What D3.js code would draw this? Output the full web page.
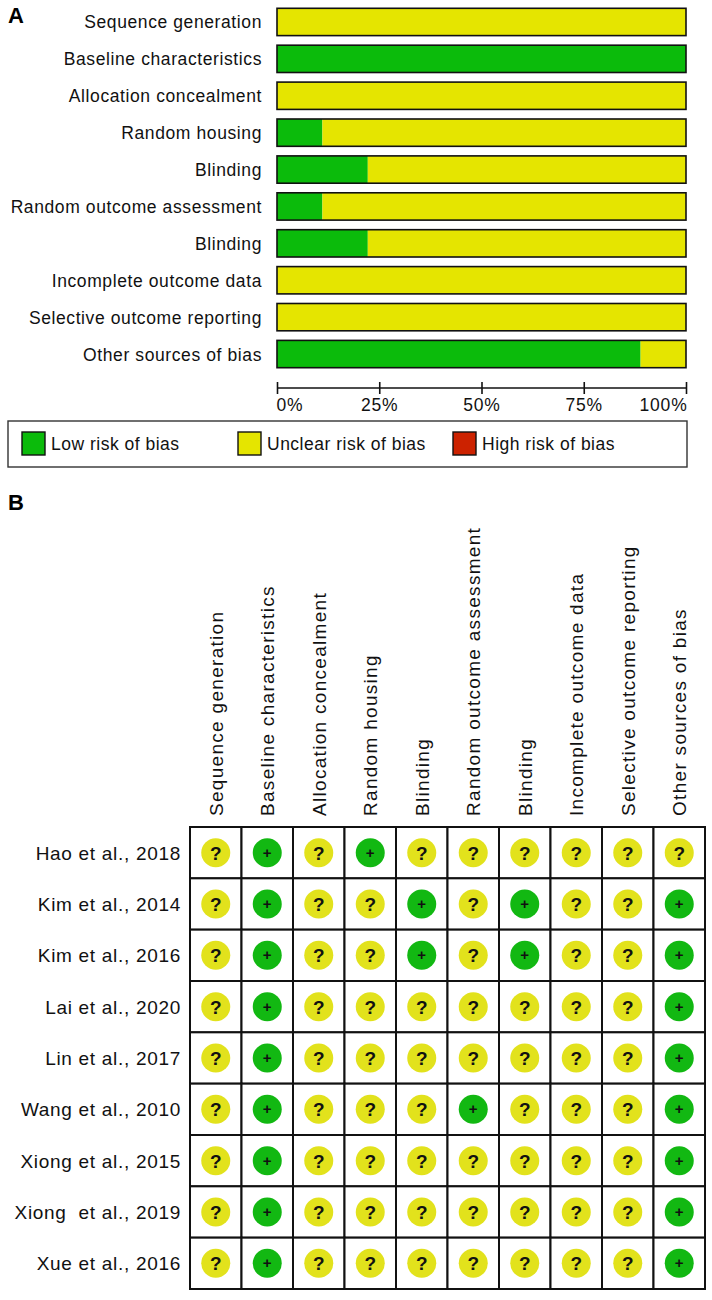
<!DOCTYPE html>
<html>
<head>
<meta charset="utf-8">
<title>Risk of bias</title>
<script src="https://cdn.jsdelivr.net/npm/d3@7"></script>
<style>
  body { margin: 0; background: #fff; }
  svg { display: block; font-family: "Liberation Sans", Arial, sans-serif; }
</style>
</head>
<body>
<script>
// Domains (rows of A, columns of B)
const domains = [
  'Sequence generation',
  'Baseline characteristics',
  'Allocation concealment',
  'Random housing',
  'Blinding',
  'Random outcome assessment',
  'Blinding',
  'Incomplete outcome data',
  'Selective outcome reporting',
  'Other sources of bias'
];

// Panel A percentages
const lowPct     = [0, 100, 0, 11.1, 22.2, 11.1, 22.2, 0, 0, 88.9];
const unclearPct = [100, 0, 100, 88.9, 77.8, 88.9, 77.8, 100, 100, 11.1];
const highPct    = [0, 0, 0, 0, 0, 0, 0, 0, 0, 0];
const tickValues = [0, 25, 50, 75, 100];
const tickLabels = ['0%', '25%', '50%', '75%', '100%'];

const legendLabels = ['Low risk of bias', 'Unclear risk of bias', 'High risk of bias'];

// Panel B studies and judgements ('+' low, '?' unclear)
const studies = [
  'Hao et al., 2018',
  'Kim et al., 2014',
  'Kim et al., 2016',
  'Lai et al., 2020',
  'Lin et al., 2017',
  'Wang et al., 2010',
  'Xiong et al., 2015',
  'Xiong  et al., 2019',
  'Xue et al., 2016'
];
const judgements = [
  ['?', '+', '?', '+', '?', '?', '?', '?', '?', '?'],
  ['?', '+', '?', '?', '+', '?', '+', '?', '?', '+'],
  ['?', '+', '?', '?', '+', '?', '+', '?', '?', '+'],
  ['?', '+', '?', '?', '?', '?', '?', '?', '?', '+'],
  ['?', '+', '?', '?', '?', '?', '?', '?', '?', '+'],
  ['?', '+', '?', '?', '?', '+', '?', '?', '?', '+'],
  ['?', '+', '?', '?', '?', '?', '?', '?', '?', '+'],
  ['?', '+', '?', '?', '?', '?', '?', '?', '?', '+'],
  ['?', '+', '?', '?', '?', '?', '?', '?', '?', '+']
];

const colors = { low: '#0bbb0b', unclear: '#e5e500', high: '#cc2200' };
const dotColors = { '+': '#12b812', '?': '#e2e21c', '-': '#dd2200' };

const width = 712, height = 1300;

const svg = d3.select('body').append('svg')
  .attr('width', width)
  .attr('height', height)
  .style('background-color', '#fff');

// ---------- Panel A ----------
svg.append('text')
  .attr('x', 8).attr('y', 23)
  .style('font-size', '22px')
  .style('font-weight', 'bold')
  .text('A');

const x = d3.scaleLinear().domain([0, 100]).range([277, 686]);
const y = d3.scaleBand().domain(d3.range(domains.length)).range([3.5, 372.5]).paddingInner(0.26).paddingOuter(0.13);

const stackData = domains.map((d, i) => ({ i, low: lowPct[i], unclear: unclearPct[i], high: highPct[i] }));
const stack = d3.stack().keys(['low', 'unclear', 'high'])(stackData);

const gA = svg.append('g');

gA.selectAll('g.layer')
  .data(stack)
  .enter().append('g')
  .attr('class', 'layer')
  .attr('fill', s => colors[s.key])
  .selectAll('rect')
  .data(s => s)
  .enter().append('rect')
  .attr('x', d => x(d[0]))
  .attr('y', d => y(d.data.i))
  .attr('width', d => x(d[1]) - x(d[0]))
  .attr('height', y.bandwidth());

gA.selectAll('rect.outline')
  .data(domains)
  .enter().append('rect')
  .attr('class', 'outline')
  .attr('x', x(0))
  .attr('y', (d, i) => y(i))
  .attr('width', x(100) - x(0))
  .attr('height', y.bandwidth())
  .attr('fill', 'none')
  .attr('stroke', '#111')
  .attr('stroke-width', 1.6);

gA.selectAll('text.dlabel')
  .data(domains)
  .enter().append('text')
  .attr('class', 'dlabel')
  .attr('x', 262)
  .attr('y', (d, i) => y(i) + y.bandwidth() / 2 + 6.5)
  .attr('text-anchor', 'end')
  .style('font-size', '17.5px')
  .style('letter-spacing', '0.6px')
  .attr('fill', '#111')
  .text(d => d);

// axis
const axisY = 388;
const axis = d3.axisBottom(x).tickValues(tickValues).tickSize(0).tickFormat('');
const gAxis = svg.append('g').attr('transform', `translate(0,${axisY})`).call(axis);
gAxis.select('.domain').attr('stroke', '#111').attr('stroke-width', 1.6).attr('d', `M${x(0)},0H${x(100)}`);
gAxis.selectAll('.tick').append('line')
  .attr('y1', -6).attr('y2', 6)
  .attr('stroke', '#111').attr('stroke-width', 1.6);
gAxis.selectAll('.tick').append('text')
  .attr('y', 23)
  .attr('fill', '#111')
  .attr('text-anchor', (d, i) => i === 0 ? 'start' : (i === tickValues.length - 1 ? 'end' : 'middle'))
  .attr('x', (d, i) => i === 0 ? -1 : (i === tickValues.length - 1 ? 1 : 0))
  .style('font-size', '17.5px')
  .style('letter-spacing', '0.8px')
  .text((d, i) => tickLabels[i]);

// legend
svg.append('rect')
  .attr('x', 8).attr('y', 421)
  .attr('width', 679).attr('height', 46)
  .attr('fill', '#fff')
  .attr('stroke', '#333')
  .attr('stroke-width', 1.4);

const legendX = [22, 238, 453];
const legendKeys = ['low', 'unclear', 'high'];
const gLeg = svg.append('g').selectAll('g')
  .data(legendLabels)
  .enter().append('g')
  .attr('transform', (d, i) => `translate(${legendX[i]},432)`);
gLeg.append('rect')
  .attr('width', 23).attr('height', 23)
  .attr('fill', (d, i) => colors[legendKeys[i]])
  .attr('stroke', '#111').attr('stroke-width', 1.4);
gLeg.append('text')
  .attr('x', 29).attr('y', 18)
  .attr('fill', '#111')
  .style('font-size', '17.5px')
  .style('letter-spacing', '0.5px')
  .text(d => d);

// ---------- Panel B ----------
svg.append('text')
  .attr('x', 8).attr('y', 510)
  .style('font-size', '22px')
  .style('font-weight', 'bold')
  .text('B');

const cx = d3.scaleBand().domain(d3.range(domains.length)).range([190, 705]);
const cy = d3.scaleBand().domain(d3.range(studies.length)).range([827, 1289]);

const gB = svg.append('g');

// column headers
gB.selectAll('text.col')
  .data(domains)
  .enter().append('text')
  .attr('class', 'col')
  .attr('transform', (d, i) => `translate(${cx(i) + cx.bandwidth() / 2 + 7},816) rotate(-90)`)
  .attr('fill', '#111')
  .style('font-size', '19px')
  .style('letter-spacing', '1.3px')
  .text(d => d);

// row labels
gB.selectAll('text.row')
  .data(studies)
  .enter().append('text')
  .attr('class', 'row')
  .attr('x', 181)
  .attr('y', (d, i) => cy(i) + cy.bandwidth() / 2 + 7)
  .attr('text-anchor', 'end')
  .attr('fill', '#111')
  .style('font-size', '19px')
  .style('letter-spacing', '0.7px')
  .style('white-space', 'pre')
  .text(d => d);

const cells = [];
judgements.forEach((row, r) => row.forEach((j, c) => cells.push({ r, c, j })));

const cell = gB.selectAll('g.cell')
  .data(cells)
  .enter().append('g')
  .attr('class', 'cell')
  .attr('transform', d => `translate(${cx(d.c)},${cy(d.r)})`);

cell.append('rect')
  .attr('width', cx.bandwidth())
  .attr('height', cy.bandwidth())
  .attr('fill', '#fff')
  .attr('stroke', '#111')
  .attr('stroke-width', 2);

cell.append('circle')
  .attr('cx', cx.bandwidth() / 2)
  .attr('cy', cy.bandwidth() / 2)
  .attr('r', 14.5)
  .attr('fill', d => dotColors[d.j]);

cell.append('text')
  .attr('x', cx.bandwidth() / 2)
  .attr('y', d => cy.bandwidth() / 2 + (d.j === '?' ? 7 : 5))
  .attr('text-anchor', 'middle')
  .attr('fill', '#111')
  .style('font-weight', 'bold')
  .style('font-size', d => d.j === '?' ? '19px' : '15px')
  .text(d => d.j);
</script>
</body>
</html>
